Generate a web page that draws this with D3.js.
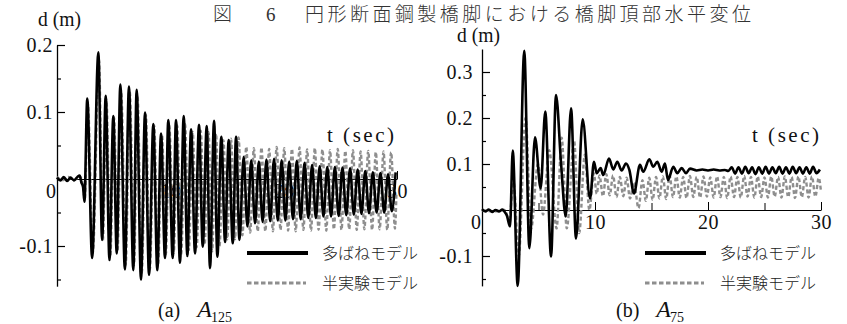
<!DOCTYPE html>
<html>
<head>
<meta charset="utf-8">
<script src="https://cdn.jsdelivr.net/npm/d3@7"></script>
<style>
  body { margin: 0; background: #fff; }
  svg { display: block; }
</style>
</head>
<body>
<div id="chart"></div>
<script>
// ---- data ----
const titleText = '円形断面鋼製橋脚における橋脚頂部水平変位';
const legendLabels = ['多ばねモデル', '半実験モデル'];
const tMajor = [10, 20, 30];
const tMinor = [5, 15, 25];
const dMajorA = [-0.1, 0.1, 0.2];
const dMinorA = [-0.15, -0.05, 0.05, 0.15];
const dMajorB = [-0.1, 0.1, 0.2, 0.3];
const dMinorB = [-0.15, -0.05, 0.05, 0.15, 0.25];

// (a) A125, multi-spring model: [t (sec), d (m)] turning points
const a125Multi = [
  [0, 0.002], [0.3, -0.002], [0.6, 0.003], [0.9, -0.003], [1.2, 0.002], [1.5, -0.002], [1.8, 0.003],
  [2.0, 0.005], [2.15, -0.005], [2.3, -0.012], [2.42, -0.034],
  [2.67, 0.120], [3.1, -0.118], [3.65, 0.189], [3.98, -0.091], [4.30, 0.124], [4.63, -0.121],
  [4.97, 0.094], [5.27, -0.111], [5.59, 0.141], [5.99, -0.135], [6.35, 0.138], [6.73, -0.136],
  [7.03, 0.133], [7.41, -0.150], [7.77, 0.099], [8.12, -0.143], [8.50, 0.082], [8.85, -0.136],
  [9.18, 0.068], [9.53, -0.118], [9.82, 0.088], [10.21, -0.118], [10.50, 0.088], [10.85, -0.125],
  [11.18, 0.094], [11.50, -0.115], [11.83, 0.074], [12.18, -0.111], [12.53, 0.081], [12.86, -0.101],
  [13.21, 0.079], [13.50, -0.133], [13.86, 0.087], [14.15, -0.116], [14.50, 0.063], [14.83, -0.094],
  [15.15, 0.058], [15.51, -0.096], [15.80, 0.063], [16.1, -0.091], [16.47, 0.033], [16.80, -0.071],
  [17.14, 0.028], [17.47, -0.066], [17.81, 0.026], [18.14, -0.064], [18.48, 0.029], [18.81, -0.063],
  [19.15, 0.030], [19.48, -0.062], [19.82, 0.028], [20.15, -0.062], [20.49, 0.026], [20.82, -0.060],
  [21.16, 0.027], [21.50, -0.060], [21.84, 0.024], [22.17, -0.058], [22.51, 0.021], [22.84, -0.058],
  [23.18, 0.019], [23.51, -0.056], [23.85, 0.018], [24.18, -0.056], [24.52, 0.018], [24.85, -0.055],
  [25.19, 0.017], [25.52, -0.054], [25.86, 0.016], [26.19, -0.053], [26.53, 0.014], [26.86, -0.052],
  [27.20, 0.012], [27.53, -0.051], [27.87, 0.010], [28.20, -0.050], [28.54, 0.009], [28.87, -0.050],
  [29.21, 0.007], [29.54, -0.048], [29.88, 0.010]
];

// (a) A125, semi-experimental model
const a125Semi = [
  [0, 0.003], [0.5, -0.002], [1.0, 0.003], [1.5, -0.002], [2.0, 0.004], [2.3, -0.01], [2.45, -0.03],
  [2.72, 0.112], [3.16, -0.110], [3.70, 0.178], [4.04, -0.092], [4.36, 0.118], [4.70, -0.116],
  [5.03, 0.092], [5.34, -0.108], [5.66, 0.132], [6.06, -0.128], [6.42, 0.130], [6.80, -0.128],
  [7.10, 0.125], [7.48, -0.140], [7.84, 0.096], [8.19, -0.135], [8.57, 0.080], [8.92, -0.128],
  [9.26, 0.066], [9.61, -0.112], [9.90, 0.080], [10.30, -0.110], [10.60, 0.080], [10.96, -0.112],
  [11.30, 0.082], [11.63, -0.106], [11.97, 0.070], [12.32, -0.102], [12.68, 0.072], [13.02, -0.098],
  [13.37, 0.070], [13.68, -0.108], [14.03, 0.068], [14.34, -0.100], [14.68, 0.058], [15.02, -0.090],
  [15.35, 0.060], [15.70, -0.090], [16.02, 0.062], [16.36, -0.084], [16.70, 0.048], [17.04, -0.080],
  [17.37, 0.046], [17.71, -0.078], [18.04, 0.047], [18.38, -0.078], [18.72, 0.045], [19.05, -0.078],
  [19.38, 0.048], [19.72, -0.076], [20.05, 0.046], [20.39, -0.077], [20.73, 0.045], [21.06, -0.078],
  [21.40, 0.047], [21.74, -0.076], [22.07, 0.044], [22.41, -0.077], [22.75, 0.046], [23.08, -0.076],
  [23.42, 0.044], [23.76, -0.077], [24.09, 0.043], [24.43, -0.075], [24.77, 0.045], [25.10, -0.076],
  [25.44, 0.042], [25.78, -0.075], [26.11, 0.043], [26.45, -0.076], [26.79, 0.041], [27.12, -0.075],
  [27.46, 0.042], [27.80, -0.076], [28.13, 0.040], [28.47, -0.075], [28.81, 0.041], [29.14, -0.076],
  [29.48, 0.040], [29.82, -0.074], [29.95, -0.02]
];

// (b) A75, multi-spring model
const a75Multi = [
  [0, 0.002], [0.3, -0.003], [0.6, 0.001], [0.9, -0.004], [1.2, 0.0], [1.5, -0.003], [1.8, 0.001],
  [2.0, -0.004], [2.2, -0.012], [2.48, -0.036], [2.72, 0.129], [3.16, -0.165], [3.74, 0.346],
  [4.19, -0.083], [4.69, 0.158], [5.19, 0.047], [5.60, 0.214], [6.11, -0.101], [6.55, 0.250],
  [7.0, 0.10], [7.41, -0.014], [7.88, 0.221], [8.32, -0.062], [8.91, 0.197], [9.56, 0.025],
  [9.91, 0.105], [10.15, 0.080], [10.50, 0.091], [10.73, 0.076], [11.24, 0.112], [11.62, 0.088],
  [11.97, 0.105], [12.36, 0.086], [12.74, 0.101], [13.04, 0.087], [13.45, 0.036], [13.98, 0.098],
  [14.27, 0.083], [14.81, 0.110], [15.16, 0.094], [15.51, 0.105], [15.90, 0.083], [16.19, 0.101],
  [16.46, 0.065], [16.93, 0.094], [17.28, 0.080], [17.67, 0.091], [18.05, 0.080], [18.41, 0.090],
  [19.0, 0.086], [19.5, 0.088], [20.0, 0.086], [20.5, 0.088], [21.0, 0.086], [21.5, 0.087],
  [21.8, 0.085], [22.1, 0.093], [22.4, 0.079], [22.7, 0.093], [23.0, 0.079], [23.3, 0.094],
  [23.6, 0.080], [23.9, 0.093], [24.2, 0.078], [24.5, 0.093], [24.8, 0.079], [25.1, 0.094],
  [25.4, 0.079], [25.7, 0.093], [26.0, 0.080], [26.3, 0.094], [26.6, 0.079], [26.9, 0.093],
  [27.2, 0.079], [27.5, 0.094], [27.8, 0.080], [28.1, 0.093], [28.4, 0.079], [28.7, 0.093],
  [29.0, 0.079], [29.3, 0.094], [29.6, 0.080], [29.9, 0.088]
];

// (b) A75, semi-experimental model
const a75Semi = [
  [0, 0.0], [1.0, -0.003], [2.0, 0.0], [2.4, -0.02], [2.8, 0.06], [3.25, -0.10], [3.85, 0.20],
  [4.35, -0.04], [4.95, 0.10], [5.4, -0.01], [5.95, 0.13], [6.6, -0.04], [7.05, 0.157],
  [7.5, -0.04], [8.15, 0.15], [8.6, -0.05], [9.1, 0.12], [9.5, 0.0], [9.9, 0.08],
  [10.15, 0.035], [10.4, 0.075], [10.7, 0.030], [11.0, 0.078], [11.3, 0.032], [11.6, 0.075],
  [11.9, 0.028], [12.2, 0.072], [12.5, 0.030], [12.8, 0.070], [13.1, 0.025], [13.45, 0.060],
  [13.85, 0.004], [14.2, 0.065], [14.5, 0.020], [14.8, 0.070], [15.1, 0.022], [15.4, 0.072],
  [15.7, 0.025], [16.0, 0.073], [16.3, 0.024], [16.6, 0.075], [16.9, 0.028], [17.2, 0.073],
  [17.5, 0.027], [17.8, 0.072], [18.1, 0.026], [18.4, 0.074], [18.7, 0.028], [19.0, 0.072],
  [19.3, 0.027], [19.6, 0.073], [19.9, 0.029], [20.2, 0.071], [20.5, 0.027], [20.8, 0.073],
  [21.1, 0.028], [21.4, 0.072], [21.7, 0.026], [22.0, 0.073], [22.3, 0.028], [22.6, 0.072],
  [22.9, 0.027], [23.2, 0.074], [23.5, 0.029], [23.8, 0.072], [24.1, 0.027], [24.4, 0.073],
  [24.7, 0.028], [25.0, 0.071], [25.3, 0.027], [25.6, 0.073], [25.9, 0.029], [26.2, 0.072],
  [26.5, 0.027], [26.8, 0.073], [27.1, 0.028], [27.4, 0.072], [27.7, 0.026], [28.0, 0.073],
  [28.3, 0.028], [28.6, 0.072], [28.9, 0.027], [29.2, 0.073], [29.5, 0.029], [29.8, 0.070],
  [30.0, 0.040]
];

// ---- drawing ----
const W = 847, H = 324;
const serif = '"Liberation Serif", "DejaVu Serif", "Times New Roman", serif';
const jp = '"Noto Sans CJK JP", "Noto Sans CJK SC", sans-serif';
const GRAY = '#8e8e8e';

const svg = d3.select('#chart').append('svg')
  .attr('width', W).attr('height', H)
  .style('background', '#fff');

function serifText(sel, size) {
  return sel.attr('font-family', serif).style('font-family', serif)
    .style('font-size', size + 'px').attr('fill', '#111');
}

// title
const title = svg.append('g').attr('fill', '#333');
title.append('text').attr('x', 213).attr('y', 21)
  .style('font-family', jp).style('font-size', '19px').style('font-weight', 300).text('図');
serifText(title.append('text').attr('x', 266).attr('y', 21), 19).attr('fill', '#333').text('6');
title.append('text').attr('x', 305).attr('y', 21)
  .attr('textLength', 446).attr('lengthAdjust', 'spacing')
  .style('font-family', jp).style('font-size', '19px').style('font-weight', 300).text(titleText);

function drawPanel(p) {
  const x = d3.scaleLinear().domain([0, 30]).range(p.xRange);
  const y = d3.scaleLinear().domain(p.yDomain).range(p.yRange);
  const g = svg.append('g');

  // y axis: major ticks with labels, minor ticks, pointing inward
  const yAxis = d3.axisLeft(y).tickValues(p.dMajor).tickSize(-8).tickSizeOuter(0)
    .tickPadding(p.yPad).tickFormat(d => String(d));
  const yA = g.append('g').attr('transform', `translate(${p.xRange[0]},0)`).call(yAxis);
  yA.attr('font-family', null);
  yA.select('.domain').attr('stroke-width', 1.3);
  yA.selectAll('.tick line').attr('stroke-width', 1.2);
  serifText(yA.selectAll('text'), 20).style('letter-spacing', '0.5px');
  const yMin = g.append('g').attr('transform', `translate(${p.xRange[0]},0)`)
    .call(d3.axisLeft(y).tickValues(p.dMinor).tickSize(-4).tickFormat(''));
  yMin.select('.domain').remove();
  yMin.selectAll('.tick line').attr('stroke-width', 1.2);

  // t axis at d = 0
  const xAxis = d3.axisBottom(x).tickValues(tMajor).tickSize(-8).tickSizeOuter(0).tickPadding(5);
  const xA = g.append('g').attr('transform', `translate(0,${y(0)})`).call(xAxis);
  xA.attr('font-family', null);
  xA.select('.domain').attr('stroke-width', 1.2);
  serifText(xA.selectAll('text'), 20).style('letter-spacing', '0.5px');
  const xMin = g.append('g').attr('transform', `translate(0,${y(0)})`)
    .call(d3.axisBottom(x).tickValues(tMinor).tickSize(-7).tickFormat(''));
  xMin.select('.domain').remove();

  // origin label
  serifText(g.append('text').attr('x', p.xRange[0] - 1).attr('y', y(0) + 19), 20)
    .attr('text-anchor', 'end').text('0');

  // axis titles
  serifText(g.append('text').attr('x', p.dLabel[0]).attr('y', p.dLabel[1]), 20)
    .attr('textLength', 43).attr('lengthAdjust', 'spacingAndGlyphs').text('d (m)');
  serifText(g.append('text').attr('x', p.tLabel[0]).attr('y', p.tLabel[1]), 21)
    .attr('textLength', 67).attr('lengthAdjust', 'spacing').text('t (sec)');

  const line = d3.line().x(d => x(d[0])).y(d => y(d[1])).curve(d3.curveMonotoneX);

  g.append('path').datum(p.semi)
    .attr('fill', 'none').attr('stroke', GRAY).attr('stroke-width', 2.4)
    .attr('stroke-dasharray', '4,2.5').attr('d', line);
  g.append('path').datum(p.multi)
    .attr('fill', 'none').attr('stroke', '#000').attr('stroke-width', 2.6)
    .attr('stroke-linejoin', 'round').attr('d', line);

  // legend
  const lg = g.append('g').attr('transform', `translate(${p.legend[0]},${p.legend[1]})`);
  lg.append('line').attr('x1', 0).attr('x2', 61).attr('y1', 0).attr('y2', 0)
    .attr('stroke', '#000').attr('stroke-width', 4);
  lg.append('line').attr('x1', 0).attr('x2', 59).attr('y1', 30).attr('y2', 30)
    .attr('stroke', GRAY).attr('stroke-width', 3).attr('stroke-dasharray', '4.5,2.5');
  lg.selectAll('text.lab').data(legendLabels).enter().append('text')
    .attr('class', 'lab').attr('x', 75).attr('y', (d, i) => i * 30 + 6)
    .attr('fill', '#222').style('font-family', jp).style('font-size', '16px')
    .style('font-weight', 300).text(d => d);

  // caption
  const cap = serifText(g.append('text').attr('x', p.caption[0]).attr('y', p.caption[1]), 20);
  cap.append('tspan').text(p.letter);
  cap.append('tspan').attr('dx', 17).style('font-style', 'italic').style('font-size', '24px').text('A');
  cap.append('tspan').attr('dx', -1).attr('dy', 5).style('font-size', '14px').text(p.sub);
}

drawPanel({
  xRange: [57, 397], yDomain: [-0.16, 0.2], yRange: [286.2, 45],
  dMajor: dMajorA, dMinor: dMinorA, yPad: 4,
  dLabel: [38, 26], tLabel: [327, 142], legend: [247, 253], caption: [158, 317],
  letter: '(a)', sub: '125', multi: a125Multi, semi: a125Semi
});
drawPanel({
  xRange: [482, 821], yDomain: [-0.165, 0.35], yRange: [285.9, 49],
  dMajor: dMajorB, dMinor: dMinorB, yPad: 9,
  dLabel: [457, 42], tLabel: [752, 142], legend: [645, 253], caption: [616, 317],
  letter: '(b)', sub: '75', multi: a75Multi, semi: a75Semi
});
</script>
</body>
</html>
